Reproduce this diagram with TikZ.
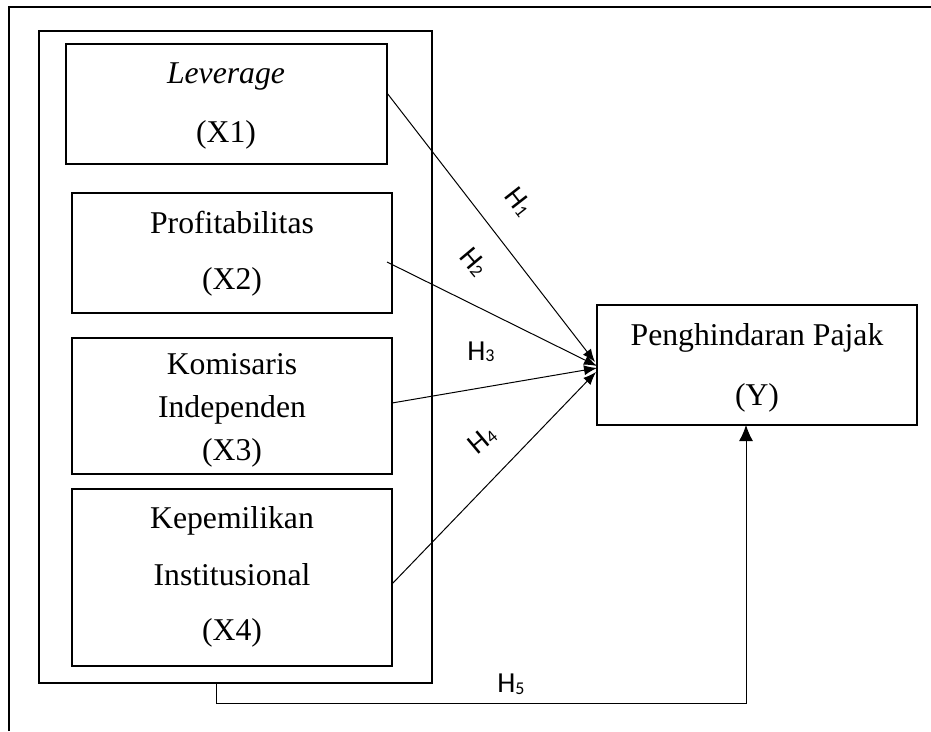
\documentclass[tikz,border=0pt]{standalone}
\usepackage{fontspec}
\setmainfont{Liberation Serif}
\newfontfamily\hfont{Carlito}
\usetikzlibrary{calc,arrows.meta}
\newcommand\hlab[1]{H\raisebox{-1.5pt}{\fontsize{18}{18}\selectfont #1}}
\begin{document}
\begin{tikzpicture}[x=1pt,y=-1pt,
  box/.style={draw,line width=2pt,rectangle,inner sep=0pt,outer sep=0pt},
  txt/.style={anchor=base,inner sep=0pt,font=\fontsize{31.7}{38}\selectfont},
  conn/.style={line width=1pt,-{Latex[length=13pt,width=10pt]}},
  hl/.style={inner sep=0pt,font=\hfont\fontsize{29}{30}\selectfont}]
\useasboundingbox (0,0) rectangle (931,731);
% outer frame (only top and left edges visible)
\draw[line width=2pt] (9,731) -- (9,7) -- (931,7);
% boxes
\node[box,minimum width=393pt,minimum height=652pt] (cont) at (235.5,357) {};
\node[box,minimum width=321pt,minimum height=120pt] (x1) at (226.5,104) {};
\node[box,minimum width=320pt,minimum height=120pt] (x2) at (232,253) {};
\node[box,minimum width=320pt,minimum height=136pt] (x3) at (232,406) {};
\node[box,minimum width=320pt,minimum height=177pt] (x4) at (232,577.5) {};
\node[box,minimum width=320pt,minimum height=120pt] (y) at (757,365) {};
% texts
\node[txt] (t1a) at (226,83) {\textit{Leverage}};
\node[txt] (t1b) at (226,142) {(X1)};
\node[txt] (t2a) at (232,233) {Profitabilitas};
\node[txt] (t2b) at (232,289) {(X2)};
\node[txt] (t3a) at (232,374) {Komisaris};
\node[txt] (t3b) at (232,417) {Independen};
\node[txt] (t3c) at (232,460) {(X3)};
\node[txt] (t4a) at (232,528) {Kepemilikan};
\node[txt] (t4b) at (232,585) {Institusional};
\node[txt] (t4c) at (232,640) {(X4)};
\node[txt] (tya) at (757,345) {Penghindaran Pajak};
\node[txt] (tyb) at (757,405) {(Y)};
% connectors
\draw[conn] ($(x1.east)+(0,-11)$) -- ($(y.west)+(-2,-3)$);
\draw[conn] ($(x2.east)+(-5,9)$) -- ($(y.west)+(0,1)$);
\draw[conn] ($(x3.east)+(0,-3)$) -- ($(y.west)+(0,3)$);
\draw[conn] ($(x4.east)+(0,6.5)$) -- ($(y.west)+(-1,7)$);
\coordinate (h5s) at ($(cont.south)+(-19.5,0)$);
\coordinate (h5e) at ($(y.south)+(-11,0)$);
\draw[line width=1pt,-{Latex[length=16pt,width=14pt]}] (h5s) -- ++(0,20) -| (h5e);
% labels
\node[hl,rotate=-52] (l1) at (519,202) {\hlab{1}};
\node[hl,rotate=-50] (l2) at (474,262) {\hlab{2}};
\node[hl] (l3) at (481,352) {\hlab{3}};
\node[hl,rotate=40] (l4) at (482,440) {\hlab{4}};
\node[hl] (l5) at (511,684) {\hlab{5}};
\end{tikzpicture}
\end{document}
